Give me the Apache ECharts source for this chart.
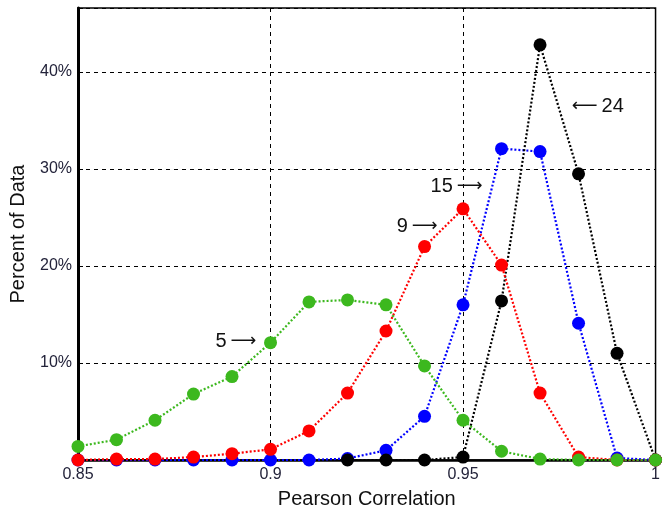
<!DOCTYPE html>
<html>
<head>
<meta charset="utf-8">
<script src="https://cdn.jsdelivr.net/npm/echarts@6/dist/echarts.min.js"></script>
<style>html,body{margin:0;padding:0;background:#fff;}#c{width:663px;height:514px;}</style>
</head>
<body>
<div id="c"></div>
<script>
const xValues = [0.85,0.86,0.87,0.88,0.89,0.90,0.91,0.92,0.93,0.94,0.95,0.96,0.97,0.98,0.99,1.00];
const s5  = [1.4,2.1,4.1,6.8,8.6,12.1,16.3,16.5,16.0,9.7,4.1,0.9,0.1,0,0,0];
const s9  = [0,0.1,0.1,0.3,0.65,1.1,3.0,6.9,13.3,22.0,25.9,20.1,6.9,0.3,0,0];
const s15 = [0,0,0,0,0,0,0,0.15,1.0,4.5,16.0,32.1,31.8,14.1,0.2,0];
const s24 = [null,null,null,null,null,null,null,0,0,0,0.3,16.4,42.8,29.5,11.0,0];
const yTicks = [10,20,30,40];
const annotations = [
  {label:'5', arrow:'\u27F6', before:false, x:0.8910, y:12.2},
  {label:'9', arrow:'\u27F6', before:false, x:0.9381, y:24.05},
  {label:'15', arrow:'\u27F6', before:false, x:0.9483, y:28.25},
  {label:'24', arrow:'\u27F5', before:true, x:0.9850, y:36.45}
];

function pairs(arr){ return xValues.map((x,i)=>[x,arr[i]]).filter(p=>p[1]!==null); }

const chart = echarts.init(document.getElementById('c'));
const tickFont = {fontFamily:'Liberation Sans', fontSize:16, color:'#23233a'};
function mkSeries(name, arr, color){
  return {
    name, type:'line', data:pairs(arr), symbol:'circle', symbolSize:13,
    itemStyle:{color}, lineStyle:{color, width:2.2, type:[2,2]}, animation:false
  };
}
chart.setOption({
  animation:false,
  grid:{left:77, right:6, top:8, bottom:51, show:true, borderColor:'#000', borderWidth:1.5, backgroundColor:'#fff'},
  xAxis:{
    type:'value', min:0.85, max:1, interval:0.05,
    name:'Pearson Correlation', nameLocation:'middle', nameGap:29,
    nameTextStyle:{fontFamily:'Liberation Sans', fontSize:20, color:'#111'},
    axisLine:{show:true, onZero:false, lineStyle:{color:'#000', width:2.5}},
    axisTick:{show:true, inside:true, length:5, lineStyle:{color:'#000'}},
    axisLabel:Object.assign({margin:7, formatter:v=>String(+v.toFixed(2))}, tickFont),
    splitLine:{show:true, lineStyle:{color:'#000', type:[4,4], width:1}}
  },
  yAxis:{
    type:'value', min:0, max:46.6, interval:10,
    name:'Percent of Data', nameLocation:'middle', nameGap:50,
    nameTextStyle:{fontFamily:'Liberation Sans', fontSize:20, color:'#111'},
    axisLine:{show:true, lineStyle:{color:'#000', width:3}},
    axisTick:{show:true, inside:true, length:5, lineStyle:{color:'#000'}},
    axisLabel:Object.assign({margin:6, formatter:v=>yTicks.indexOf(Math.round(v))>=0 && Math.abs(v-Math.round(v))<1e-6 ? Math.round(v)+'%' : ''}, tickFont),
    splitLine:{show:true, lineStyle:{color:'#000', type:[4,4], width:1}}
  },
  series:[
    mkSeries('15', s15, '#0000ff'),
    mkSeries('24', s24, '#000000'),
    mkSeries('9', s9, '#ff0000'),
    mkSeries('5', s5, '#3cb81e')
  ]
});
const g = annotations.map(a=>{
  const p = chart.convertToPixel({gridIndex:0}, [a.x, a.y]);
  const txt = a.before ? '{a|' + a.arrow + '}{s| }{n|' + a.label + '}' : '{n|' + a.label + '}{s| }{a|' + a.arrow + '}';
  return {type:'text', x:p[0], y:p[1], z:100,
    style:{text:txt, align:'center', verticalAlign:'middle', fill:'#111',
      rich:{
        n:{fontFamily:'Liberation Sans', fontSize:20, fill:'#111'},
        s:{fontFamily:'Liberation Sans', fontSize:14, fill:'#111'},
        a:{fontFamily:'DejaVu Sans', fontSize:18, fill:'#111'}
      }}};
});
chart.setOption({graphic:g});
</script>
</body>
</html>
